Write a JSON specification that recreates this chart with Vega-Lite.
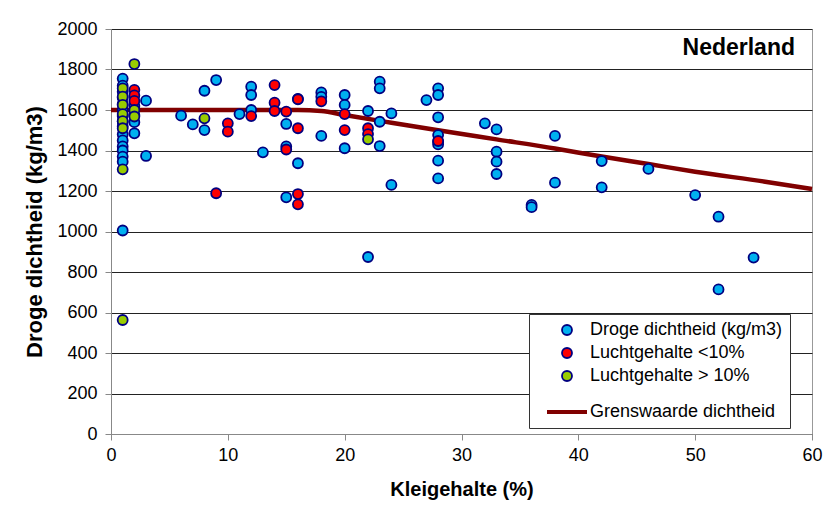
{
  "$schema": "https://vega.github.io/schema/vega-lite/v6.json",
  "width": 701,
  "height": 405,
  "autosize": {"type": "none"},
  "padding": {"left": 111, "top": 29, "right": 12, "bottom": 72},
  "background": "white",
  "title": {"text": "Nederland", "anchor": "end", "frame": "group", "orient": "top", "offset": -28, "dy": 30, "baseline": "alphabetic", "dx": -17, "font": "Liberation Sans", "fontSize": 23, "fontWeight": "bold", "color": "#000"},
  "config": {"view": {"stroke": "#999", "strokeWidth": 1}, "font": "Liberation Sans"},
  "datasets": {
    "grens": [
      {"klei": 0, "dichtheid": 1600}, {"klei": 16, "dichtheid": 1600}, {"klei": 18, "dichtheid": 1595},
      {"klei": 20, "dichtheid": 1575}, {"klei": 24, "dichtheid": 1537}, {"klei": 28, "dichtheid": 1500},
      {"klei": 33, "dichtheid": 1455}, {"klei": 38, "dichtheid": 1410}, {"klei": 42, "dichtheid": 1370},
      {"klei": 46, "dichtheid": 1333}, {"klei": 50, "dichtheid": 1295}, {"klei": 56, "dichtheid": 1246},
      {"klei": 60, "dichtheid": 1210}
    ],
    "punten": [
      {"klei": 1, "dichtheid": 1755, "reeks": "Droge dichtheid (kg/m3)"},
      {"klei": 1, "dichtheid": 1720, "reeks": "Droge dichtheid (kg/m3)"},
      {"klei": 1, "dichtheid": 1690, "reeks": "Droge dichtheid (kg/m3)"},
      {"klei": 1, "dichtheid": 1660, "reeks": "Droge dichtheid (kg/m3)"},
      {"klei": 1, "dichtheid": 1630, "reeks": "Droge dichtheid (kg/m3)"},
      {"klei": 1, "dichtheid": 1600, "reeks": "Droge dichtheid (kg/m3)"},
      {"klei": 1, "dichtheid": 1570, "reeks": "Droge dichtheid (kg/m3)"},
      {"klei": 1, "dichtheid": 1545, "reeks": "Droge dichtheid (kg/m3)"},
      {"klei": 1, "dichtheid": 1520, "reeks": "Droge dichtheid (kg/m3)"},
      {"klei": 1, "dichtheid": 1480, "reeks": "Droge dichtheid (kg/m3)"},
      {"klei": 1, "dichtheid": 1450, "reeks": "Droge dichtheid (kg/m3)"},
      {"klei": 1, "dichtheid": 1420, "reeks": "Droge dichtheid (kg/m3)"},
      {"klei": 1, "dichtheid": 1400, "reeks": "Droge dichtheid (kg/m3)"},
      {"klei": 1, "dichtheid": 1370, "reeks": "Droge dichtheid (kg/m3)"},
      {"klei": 1, "dichtheid": 1345, "reeks": "Droge dichtheid (kg/m3)"},
      {"klei": 1, "dichtheid": 1005, "reeks": "Droge dichtheid (kg/m3)"},
      {"klei": 2, "dichtheid": 1620, "reeks": "Droge dichtheid (kg/m3)"},
      {"klei": 2, "dichtheid": 1575, "reeks": "Droge dichtheid (kg/m3)"},
      {"klei": 2, "dichtheid": 1540, "reeks": "Droge dichtheid (kg/m3)"},
      {"klei": 2, "dichtheid": 1485, "reeks": "Droge dichtheid (kg/m3)"},
      {"klei": 3, "dichtheid": 1646, "reeks": "Droge dichtheid (kg/m3)"},
      {"klei": 3, "dichtheid": 1373, "reeks": "Droge dichtheid (kg/m3)"},
      {"klei": 6, "dichtheid": 1572, "reeks": "Droge dichtheid (kg/m3)"},
      {"klei": 7, "dichtheid": 1529, "reeks": "Droge dichtheid (kg/m3)"},
      {"klei": 8, "dichtheid": 1695, "reeks": "Droge dichtheid (kg/m3)"},
      {"klei": 8, "dichtheid": 1501, "reeks": "Droge dichtheid (kg/m3)"},
      {"klei": 9, "dichtheid": 1748, "reeks": "Droge dichtheid (kg/m3)"},
      {"klei": 11, "dichtheid": 1580, "reeks": "Droge dichtheid (kg/m3)"},
      {"klei": 12, "dichtheid": 1715, "reeks": "Droge dichtheid (kg/m3)"},
      {"klei": 12, "dichtheid": 1674, "reeks": "Droge dichtheid (kg/m3)"},
      {"klei": 12, "dichtheid": 1600, "reeks": "Droge dichtheid (kg/m3)"},
      {"klei": 13, "dichtheid": 1391, "reeks": "Droge dichtheid (kg/m3)"},
      {"klei": 15, "dichtheid": 1531, "reeks": "Droge dichtheid (kg/m3)"},
      {"klei": 15, "dichtheid": 1420, "reeks": "Droge dichtheid (kg/m3)"},
      {"klei": 15, "dichtheid": 1169, "reeks": "Droge dichtheid (kg/m3)"},
      {"klei": 16, "dichtheid": 1655, "reeks": "Droge dichtheid (kg/m3)"},
      {"klei": 16, "dichtheid": 1337, "reeks": "Droge dichtheid (kg/m3)"},
      {"klei": 18, "dichtheid": 1687, "reeks": "Droge dichtheid (kg/m3)"},
      {"klei": 18, "dichtheid": 1665, "reeks": "Droge dichtheid (kg/m3)"},
      {"klei": 18, "dichtheid": 1472, "reeks": "Droge dichtheid (kg/m3)"},
      {"klei": 20, "dichtheid": 1674, "reeks": "Droge dichtheid (kg/m3)"},
      {"klei": 20, "dichtheid": 1625, "reeks": "Droge dichtheid (kg/m3)"},
      {"klei": 20, "dichtheid": 1411, "reeks": "Droge dichtheid (kg/m3)"},
      {"klei": 22, "dichtheid": 1595, "reeks": "Droge dichtheid (kg/m3)"},
      {"klei": 22, "dichtheid": 874, "reeks": "Droge dichtheid (kg/m3)"},
      {"klei": 23, "dichtheid": 1740, "reeks": "Droge dichtheid (kg/m3)"},
      {"klei": 23, "dichtheid": 1707, "reeks": "Droge dichtheid (kg/m3)"},
      {"klei": 23, "dichtheid": 1542, "reeks": "Droge dichtheid (kg/m3)"},
      {"klei": 23, "dichtheid": 1422, "reeks": "Droge dichtheid (kg/m3)"},
      {"klei": 24, "dichtheid": 1583, "reeks": "Droge dichtheid (kg/m3)"},
      {"klei": 24, "dichtheid": 1230, "reeks": "Droge dichtheid (kg/m3)"},
      {"klei": 27, "dichtheid": 1649, "reeks": "Droge dichtheid (kg/m3)"},
      {"klei": 28, "dichtheid": 1707, "reeks": "Droge dichtheid (kg/m3)"},
      {"klei": 28, "dichtheid": 1674, "reeks": "Droge dichtheid (kg/m3)"},
      {"klei": 28, "dichtheid": 1564, "reeks": "Droge dichtheid (kg/m3)"},
      {"klei": 28, "dichtheid": 1476, "reeks": "Droge dichtheid (kg/m3)"},
      {"klei": 28, "dichtheid": 1443, "reeks": "Droge dichtheid (kg/m3)"},
      {"klei": 28, "dichtheid": 1430, "reeks": "Droge dichtheid (kg/m3)"},
      {"klei": 28, "dichtheid": 1350, "reeks": "Droge dichtheid (kg/m3)"},
      {"klei": 28, "dichtheid": 1262, "reeks": "Droge dichtheid (kg/m3)"},
      {"klei": 32, "dichtheid": 1534, "reeks": "Droge dichtheid (kg/m3)"},
      {"klei": 33, "dichtheid": 1504, "reeks": "Droge dichtheid (kg/m3)"},
      {"klei": 33, "dichtheid": 1394, "reeks": "Droge dichtheid (kg/m3)"},
      {"klei": 33, "dichtheid": 1345, "reeks": "Droge dichtheid (kg/m3)"},
      {"klei": 33, "dichtheid": 1284, "reeks": "Droge dichtheid (kg/m3)"},
      {"klei": 36, "dichtheid": 1131, "reeks": "Droge dichtheid (kg/m3)"},
      {"klei": 36, "dichtheid": 1120, "reeks": "Droge dichtheid (kg/m3)"},
      {"klei": 38, "dichtheid": 1472, "reeks": "Droge dichtheid (kg/m3)"},
      {"klei": 38, "dichtheid": 1241, "reeks": "Droge dichtheid (kg/m3)"},
      {"klei": 42, "dichtheid": 1348, "reeks": "Droge dichtheid (kg/m3)"},
      {"klei": 42, "dichtheid": 1218, "reeks": "Droge dichtheid (kg/m3)"},
      {"klei": 46, "dichtheid": 1309, "reeks": "Droge dichtheid (kg/m3)"},
      {"klei": 50, "dichtheid": 1180, "reeks": "Droge dichtheid (kg/m3)"},
      {"klei": 52, "dichtheid": 1073, "reeks": "Droge dichtheid (kg/m3)"},
      {"klei": 52, "dichtheid": 714, "reeks": "Droge dichtheid (kg/m3)"},
      {"klei": 55, "dichtheid": 871, "reeks": "Droge dichtheid (kg/m3)"},
      {"klei": 2, "dichtheid": 1699, "reeks": "Luchtgehalte <10%"},
      {"klei": 2, "dichtheid": 1672, "reeks": "Luchtgehalte <10%"},
      {"klei": 2, "dichtheid": 1645, "reeks": "Luchtgehalte <10%"},
      {"klei": 9, "dichtheid": 1189, "reeks": "Luchtgehalte <10%"},
      {"klei": 10, "dichtheid": 1534, "reeks": "Luchtgehalte <10%"},
      {"klei": 10, "dichtheid": 1493, "reeks": "Luchtgehalte <10%"},
      {"klei": 12, "dichtheid": 1570, "reeks": "Luchtgehalte <10%"},
      {"klei": 14, "dichtheid": 1723, "reeks": "Luchtgehalte <10%"},
      {"klei": 14, "dichtheid": 1636, "reeks": "Luchtgehalte <10%"},
      {"klei": 14, "dichtheid": 1595, "reeks": "Luchtgehalte <10%"},
      {"klei": 15, "dichtheid": 1592, "reeks": "Luchtgehalte <10%"},
      {"klei": 15, "dichtheid": 1405, "reeks": "Luchtgehalte <10%"},
      {"klei": 16, "dichtheid": 1653, "reeks": "Luchtgehalte <10%"},
      {"klei": 16, "dichtheid": 1510, "reeks": "Luchtgehalte <10%"},
      {"klei": 16, "dichtheid": 1185, "reeks": "Luchtgehalte <10%"},
      {"klei": 16, "dichtheid": 1134, "reeks": "Luchtgehalte <10%"},
      {"klei": 18, "dichtheid": 1643, "reeks": "Luchtgehalte <10%"},
      {"klei": 20, "dichtheid": 1580, "reeks": "Luchtgehalte <10%"},
      {"klei": 20, "dichtheid": 1501, "reeks": "Luchtgehalte <10%"},
      {"klei": 22, "dichtheid": 1510, "reeks": "Luchtgehalte <10%"},
      {"klei": 22, "dichtheid": 1481, "reeks": "Luchtgehalte <10%"},
      {"klei": 28, "dichtheid": 1447, "reeks": "Luchtgehalte <10%"},
      {"klei": 1, "dichtheid": 1707, "reeks": "Luchtgehalte > 10%"},
      {"klei": 1, "dichtheid": 1666, "reeks": "Luchtgehalte > 10%"},
      {"klei": 1, "dichtheid": 1625, "reeks": "Luchtgehalte > 10%"},
      {"klei": 1, "dichtheid": 1580, "reeks": "Luchtgehalte > 10%"},
      {"klei": 1, "dichtheid": 1545, "reeks": "Luchtgehalte > 10%"},
      {"klei": 1, "dichtheid": 1510, "reeks": "Luchtgehalte > 10%"},
      {"klei": 1, "dichtheid": 1307, "reeks": "Luchtgehalte > 10%"},
      {"klei": 1, "dichtheid": 563, "reeks": "Luchtgehalte > 10%"},
      {"klei": 2, "dichtheid": 1827, "reeks": "Luchtgehalte > 10%"},
      {"klei": 2, "dichtheid": 1600, "reeks": "Luchtgehalte > 10%"},
      {"klei": 2, "dichtheid": 1568, "reeks": "Luchtgehalte > 10%"},
      {"klei": 8, "dichtheid": 1559, "reeks": "Luchtgehalte > 10%"},
      {"klei": 22, "dichtheid": 1455, "reeks": "Luchtgehalte > 10%"}
    ]
  },
  "encoding": {
    "x": {"field": "klei", "type": "quantitative",
      "scale": {"domain": [0, 60], "nice": false, "zero": false},
      "axis": {"title": "Kleigehalte (%)", "values": [0, 10, 20, 30, 40, 50, 60], "grid": false, "labelFlush": false,
        "domainColor": "#888", "tickColor": "#888", "tickSize": 6, "labelFont": "Liberation Sans", "labelFontSize": 18, "labelColor": "#000", "labelPadding": 6,
        "titleFont": "Liberation Sans", "titleFontSize": 20, "titleFontWeight": "bold", "titleColor": "#000", "titlePadding": 15}},
    "y": {"field": "dichtheid", "type": "quantitative",
      "scale": {"domain": [0, 2000], "nice": false},
      "axis": {"title": "Droge dichtheid (kg/m3)", "format": "d", "values": [0, 200, 400, 600, 800, 1000, 1200, 1400, 1600, 1800, 2000], "grid": true, "gridColor": "#222", "gridWidth": 1, "labelFlush": false,
        "domainColor": "#888", "tickColor": "#888", "tickSize": 6, "labelFont": "Liberation Sans", "labelFontSize": 18, "labelColor": "#000", "labelPadding": 8,
        "titleFont": "Liberation Sans", "titleFontSize": 22, "titleFontWeight": "bold", "titleColor": "#000", "titlePadding": 10}}
  },
  "layer": [
    {
      "data": {"name": "grens"},
      "mark": {"type": "line", "strokeWidth": 4.5, "interpolate": "monotone", "color": "#800000"},
      "encoding": {}
    },
    {
      "data": {"name": "punten"},
      "mark": {"type": "point", "filled": true, "opacity": 1},
      "encoding": {
        "color": {"field": "reeks", "type": "nominal", "sort": null,
          "scale": {"domain": ["Droge dichtheid (kg/m3)", "Luchtgehalte <10%", "Luchtgehalte > 10%", "Grenswaarde dichtheid"], "range": ["#00B0F0", "#FF0000", "#99CC00", "#800000"]},
          "legend": {"title": null, "orient": "none", "legendX": 418, "legendY": 285, "padding": 7, "fillColor": "white", "strokeColor": "#333",
            "labelFont": "Liberation Sans", "labelFontSize": 18, "labelColor": "#000", "rowPadding": 5, "labelOffset": 1, "symbolOffset": 9, "labelLimit": 300}},
        "shape": {"field": "reeks", "type": "nominal", "sort": null,
          "scale": {"domain": ["Droge dichtheid (kg/m3)", "Luchtgehalte <10%", "Luchtgehalte > 10%", "Grenswaarde dichtheid"], "range": ["circle", "circle", "circle", "stroke"]},
          "legend": {"title": null, "orient": "none", "legendX": 418, "legendY": 285, "padding": 7, "fillColor": "white", "strokeColor": "#333",
            "labelFont": "Liberation Sans", "labelFontSize": 18, "labelColor": "#000", "rowPadding": 5, "labelOffset": 1, "symbolOffset": 9, "labelLimit": 300}},
        "stroke": {"field": "reeks", "type": "nominal", "sort": null,
          "scale": {"domain": ["Droge dichtheid (kg/m3)", "Luchtgehalte <10%", "Luchtgehalte > 10%", "Grenswaarde dichtheid"], "range": ["#000080", "#000080", "#000080", "#800000"]},
          "legend": {"title": null, "orient": "none", "legendX": 418, "legendY": 285, "padding": 7, "fillColor": "white", "strokeColor": "#333",
            "labelFont": "Liberation Sans", "labelFontSize": 18, "labelColor": "#000", "rowPadding": 5, "labelOffset": 1, "symbolOffset": 9, "labelLimit": 300}},
        "strokeWidth": {"field": "reeks", "type": "ordinal", "sort": null,
          "scale": {"type": "ordinal", "domain": ["Droge dichtheid (kg/m3)", "Luchtgehalte <10%", "Luchtgehalte > 10%", "Grenswaarde dichtheid"], "range": [1.8, 1.8, 1.8, 4]},
          "legend": {"title": null, "orient": "none", "legendX": 418, "legendY": 285, "padding": 7, "fillColor": "white", "strokeColor": "#333",
            "labelFont": "Liberation Sans", "labelFontSize": 18, "labelColor": "#000", "rowPadding": 5, "labelOffset": 1, "symbolOffset": 9, "labelLimit": 300}},
        "size": {"field": "reeks", "type": "ordinal", "sort": null,
          "scale": {"type": "ordinal", "domain": ["Droge dichtheid (kg/m3)", "Luchtgehalte <10%", "Luchtgehalte > 10%", "Grenswaarde dichtheid"], "range": [100, 100, 100, 1600]},
          "legend": {"title": null, "orient": "none", "legendX": 418, "legendY": 285, "padding": 7, "fillColor": "white", "strokeColor": "#333",
            "labelFont": "Liberation Sans", "labelFontSize": 18, "labelColor": "#000", "rowPadding": 5, "labelOffset": 1, "symbolOffset": 9, "labelLimit": 300}}
      }
    }
  ]
}
